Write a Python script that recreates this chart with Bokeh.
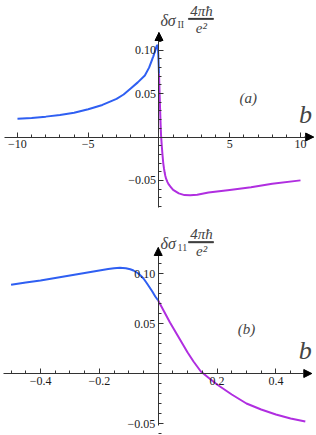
from bokeh.plotting import figure
from bokeh.layouts import column
from bokeh.models import (FixedTicker, Label, Arrow, NormalHead, Range1d, BoxAnnotation)
from bokeh.embed import file_html
from bokeh.resources import INLINE

# ---- data ----
blue_b = [-10, -9, -8, -7, -6, -5, -4, -3, -2.5, -2, -1.5, -1.0, -0.7, -0.5, -0.45,
          -0.4, -0.35, -0.3, -0.25, -0.2, -0.17, -0.15, -0.13, -0.11, -0.095, -0.084,
          -0.07, -0.06, -0.05, -0.038, -0.02, -0.01, 0]
blue_v = [0.021, 0.022, 0.0235, 0.0255, 0.028, 0.032, 0.037, 0.044, 0.049, 0.056, 0.063,
          0.071, 0.080, 0.0887, 0.091, 0.093, 0.0955, 0.098, 0.1005, 0.103, 0.1045, 0.1053,
          0.1057, 0.1053, 0.1043, 0.103, 0.1005, 0.098, 0.095, 0.090, 0.082, 0.077, 0.073]
mag_b = [0, 0.02, 0.04, 0.066, 0.08, 0.1, 0.12, 0.145, 0.17, 0.2, 0.25, 0.3, 0.35, 0.4,
         0.45, 0.5, 0.6, 0.7, 0.85, 1.0, 1.2, 1.4, 1.8, 2.2, 2.7, 3.5, 5, 6.5, 8, 10]
mag_v = [0.073, 0.062, 0.051, 0.038, 0.031, 0.021, 0.012, 0.002, -0.004, -0.011, -0.021,
         -0.030, -0.036, -0.041, -0.045, -0.048, -0.052, -0.055, -0.058, -0.061, -0.063,
         -0.065, -0.067, -0.0672, -0.0665, -0.064, -0.061, -0.058, -0.054, -0.050]

a_xticks = [-10, -5, 5, 10]
a_xlabels = ["\u221210", "\u22125", "5", "10"]
a_yticks = [-0.05, 0.05, 0.10]
a_ylabels = ["\u22120.05", "0.05", "0.10"]
b_xticks = [-0.4, -0.2, 0.2, 0.4]
b_xlabels = ["\u22120.4", "\u22120.2", "0.2", "0.4"]
b_yticks = [-0.05, 0.05, 0.10]
b_ylabels = ["\u22120.05", "0.05", "0.10"]

BLUE = "#2f5ff2"
MAG = "#b02ee0"
AX = "#333333"
SERIF = "Liberation Serif"


def make_panel(height, xr, yr, xb, yb, xt, xl, xminor, yt, yl, yminor,
               bmin, bmax, tag, sub, lab_x, lab_y, bar, tag_x, tag_y, bx, by):
    p = figure(width=316, height=height, x_range=Range1d(*xr), y_range=Range1d(*yr),
               output_backend="svg", toolbar_location=None, min_border=0,
               outline_line_color=None)
    p.grid.visible = False
    bx_ = [x for x in blue_b if x >= bmin]
    bv_ = [v for x, v in zip(blue_b, blue_v) if x >= bmin]
    mx_ = [x for x in mag_b if x <= bmax]
    mv_ = [v for x, v in zip(mag_b, mag_v) if x <= bmax]
    p.line(bx_, bv_, line_color=BLUE, line_width=2, line_join="round")
    p.line(mx_, mv_, line_color=MAG, line_width=2, line_join="round")

    for ax in (p.xaxis, p.yaxis):
        ax.fixed_location = 0
        ax.axis_line_color = AX
        ax.major_tick_line_color = AX
        ax.minor_tick_line_color = AX
        ax.major_tick_in = 5
        ax.major_tick_out = 0
        ax.minor_tick_in = 3
        ax.minor_tick_out = 0
        ax.major_label_text_font = SERIF
        ax.major_label_text_font_size = "12px"
        ax.major_label_text_color = "#1a1a1a"
    p.xaxis.ticker = FixedTicker(ticks=xt, minor_ticks=xminor)
    p.xaxis.major_label_overrides = dict(zip(xt, xl))
    p.xaxis.bounds = xb
    p.xaxis.major_label_standoff = 3
    p.yaxis.ticker = FixedTicker(ticks=yt, minor_ticks=yminor)
    p.yaxis.major_label_overrides = dict(zip(yt, yl))
    p.yaxis.bounds = yb
    p.yaxis.major_label_standoff = 3
    p.yaxis.major_label_orientation = "horizontal"

    head = dict(size=8, fill_color="black", line_color="black")
    p.add_layout(Arrow(end=NormalHead(**head), x_start=xb[1] - (xr[1] - xr[0]) * 0.03,
                       y_start=0, x_end=xb[1], y_end=0, line_color=AX, line_width=1))
    p.add_layout(Arrow(end=NormalHead(**head), x_start=0,
                       y_start=yb[1] - (yr[1] - yr[0]) * 0.03, x_end=0, y_end=yb[1],
                       line_color=AX, line_width=1))

    # axis title: delta sigma_sub * 4 pi hbar / e^2
    p.add_layout(Label(x=lab_x, y=lab_y, text="\u03b4\u03c3",
                       text_font=SERIF, text_font_style="italic", text_font_size="16px",
                       text_baseline="middle", text_align="left"))
    p.add_layout(Label(x=lab_x, y=lab_y, x_offset=17, y_offset=-4, text=sub,
                       text_font=SERIF, text_font_size="10px",
                       text_baseline="middle", text_align="left"))
    p.add_layout(Label(x=lab_x, y=lab_y, x_offset=41, y_offset=9.5, text="4\u03c0\u0127",
                       text_font=SERIF, text_font_style="italic", text_font_size="15px",
                       text_baseline="middle", text_align="center"))
    p.add_layout(Label(x=lab_x, y=lab_y, x_offset=41, y_offset=-7.5, text="e\u00b2",
                       text_font=SERIF, text_font_style="italic", text_font_size="15px",
                       text_baseline="middle", text_align="center"))
    p.add_layout(BoxAnnotation(left=bar[0], right=bar[1], bottom=bar[2], top=bar[3],
                               fill_color="#222222", fill_alpha=1, line_color="#222222",
                               line_width=0.6, line_alpha=1))
    p.add_layout(Label(x=tag_x, y=tag_y, text=tag, text_font=SERIF,
                       text_font_style="italic", text_font_size="15px",
                       text_baseline="middle", text_align="center"))
    p.add_layout(Label(x=bx, y=by, text="b", text_font=SERIF,
                       text_font_style="italic", text_font_size="26px",
                       text_baseline="middle", text_align="center"))
    return p


a_minor = [x for x in range(-10, 11) if x % 5 != 0]
a_yminor = [round(-0.09 + 0.01 * i, 2) for i in range(0, 21)]
b_minor = [round(-0.5 + 0.05 * i, 2) for i in range(0, 21)]

pa = make_panel(215, (-11.2, 11.13), (-0.0905, 0.1574), (-10.95, 10.93), (-0.081, 0.1205),
                a_xticks, a_xlabels, a_minor, a_yticks, a_ylabels, a_yminor,
                -10, 10, "(a)", "II", 0.1, 0.1344, (2.08, 3.85, 0.1356, 0.1368),
                6.3, 0.045, 10.35, 0.026)
pb = make_panel(220, (-0.536, 0.538), (-0.062, 0.158), (-0.526, 0.522), (-0.052, 0.126),
                b_xticks, b_xlabels, b_minor, b_yticks, b_ylabels, a_yminor,
                -0.5, 0.5, "(b)", "11", 0.008, 0.1297, (0.103, 0.188, 0.1307, 0.1319),
                0.3, 0.045, 0.50, 0.023)

layout = column(pa, pb, spacing=0)
open("out.html", "w").write(file_html(layout, INLINE))
